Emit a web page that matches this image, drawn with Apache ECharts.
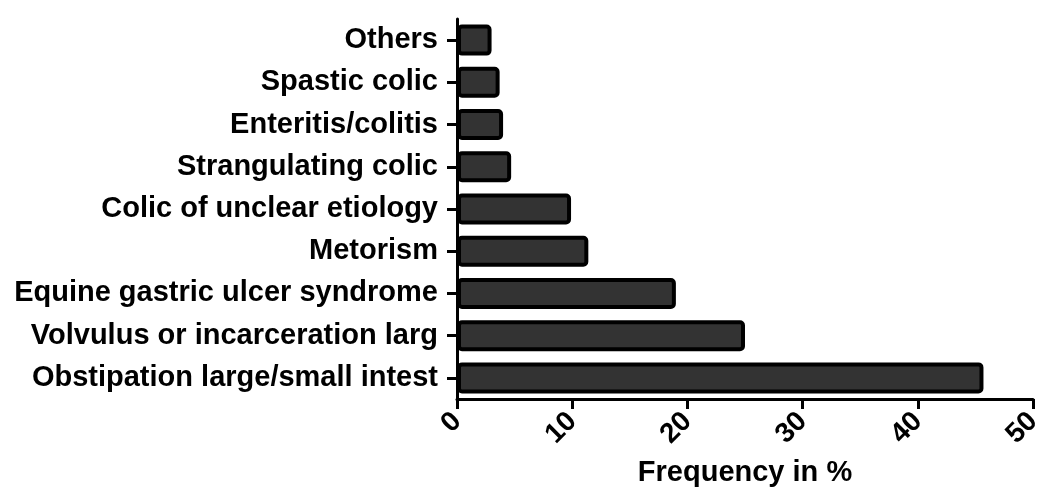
<!DOCTYPE html>
<html><head><meta charset="utf-8">
<script src="https://cdn.jsdelivr.net/npm/echarts@6/dist/echarts.min.js"></script>
<style>html,body{margin:0;padding:0;background:#fff}#c{width:1037px;height:488px}</style>
</head><body><div id="c"></div>
<script>
const categories = ["Obstipation large/small intest","Volvulus or incarceration larg","Equine gastric ulcer syndrome","Metorism","Colic of unclear etiology","Strangulating colic","Enteritis/colitis","Spastic colic","Others"];
const values = [45.7, 25.0, 19.0, 11.4, 9.9, 4.7, 4.0, 3.7, 3.0];
const xTicks = [0, 10, 20, 30, 40, 50];
const font = "Liberation Sans, Arial, sans-serif";
const chart = echarts.init(document.getElementById('c'));
chart.setOption({
  animation: false,
  grid: {left: 457, right: 4, top: 19, bottom: 89, containLabel: false, outerBoundsMode: 'none'},
  xAxis: {
    type: 'value', min: xTicks[0], max: xTicks[xTicks.length-1], interval: 10,
    name: 'Frequency in %', nameLocation: 'middle', nameGap: 59,
    nameTextStyle: {fontFamily: font, fontWeight: 'bold', fontSize: 29, color: '#000'},
    axisLine: {show: true, lineStyle: {color: '#000', width: 3}},
    axisTick: {show: true, length: 10, lineStyle: {color: '#000', width: 3}},
    axisLabel: {rotate: 45, fontFamily: font, fontWeight: 'bold', fontSize: 28, color: '#000', margin: 18},
    splitLine: {show: false}
  },
  yAxis: {
    type: 'category', data: categories,
    axisLine: {show: true, lineStyle: {color: '#000', width: 3}},
    axisTick: {show: true, alignWithLabel: true, length: 10, lineStyle: {color: '#000', width: 3}},
    axisLabel: {fontFamily: font, fontWeight: 'bold', fontSize: 29, color: '#000', margin: 19}
  },
  series: [{
    type: 'bar', data: values, barWidth: 31,
    itemStyle: {color: '#333333', borderColor: '#000', borderWidth: 4, borderRadius: 3}
  }]
});
</script></body></html>
